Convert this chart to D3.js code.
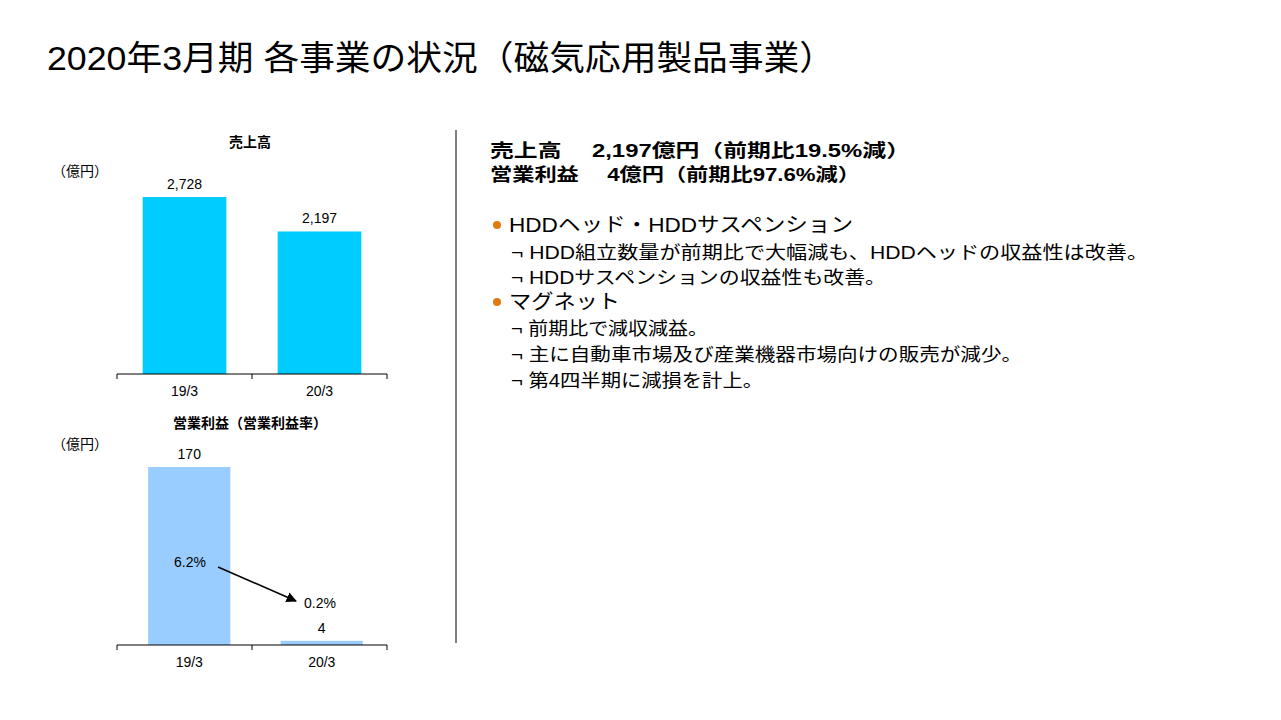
<!DOCTYPE html><html><head><meta charset="utf-8">
<script src="https://cdn.jsdelivr.net/npm/d3@7"></script>
<style>body{margin:0;background:#fff}text{font-family:"Liberation Sans","Noto Sans CJK JP",sans-serif}</style></head><body>
<svg id="c" width="1281" height="720"></svg>
<script>
const categories=["19/3","20/3"];
const sales=[2728,2197];
const profit=[170,4];
const margin=["6.2%","0.2%"];
const svg=d3.select("#c");
const F='"Liberation Sans","Noto Sans CJK JP",sans-serif';
svg.append("text").attr("x",47).attr("y",70).attr("font-size",34).attr("textLength",788).attr("lengthAdjust","spacingAndGlyphs").text("2020年3月期 各事業の状況（磁気応用製品事業）");
function chart(vals,title,ty,top,bottom,color,max,r0,r1){
  svg.append("text").attr("x",250).attr("y",ty).attr("text-anchor","middle").attr("font-size",14).attr("font-weight","bold").text(title);
  svg.append("text").attr("x",52).attr("y",ty+(title.length>3?21:29)).attr("font-size",14).text("（億円）");
  const x=d3.scaleBand().domain(categories).range([r0,r1]).paddingInner(0.38).paddingOuter(0.19);
  const y=d3.scaleLinear().domain([0,max]).range([bottom,top]);
  svg.selectAll(null).data(vals).enter().append("rect").attr("x",(d,i)=>x(categories[i])).attr("width",x.bandwidth())
    .attr("y",d=>y(d)).attr("height",d=>bottom-y(d)).attr("fill",color);
  svg.selectAll(null).data(vals).enter().append("text").attr("x",(d,i)=>x(categories[i])+x.bandwidth()/2).attr("y",d=>y(d)-8)
    .attr("text-anchor","middle").attr("font-size",14).text(d=>d3.format(",")(d));
  const ax=svg.append("g").attr("transform",`translate(0,${bottom})`).call(d3.axisBottom(x).tickSize(0).tickPadding(12));
  ax.select(".domain").remove();
  ax.selectAll("text").attr("font-size",14).attr("font-family",F);
  svg.append("line").attr("x1",117).attr("x2",387).attr("y1",bottom).attr("y2",bottom).attr("stroke","#000");
  [117,252,387].forEach(v=>svg.append("line").attr("x1",v).attr("x2",v).attr("y1",bottom).attr("y2",bottom+5).attr("stroke","#000"));
}
chart(sales,"売上高",147,197,374,"#00CCFF",2728,117,387);
chart(profit,"営業利益（営業利益率）",428,467,645,"#99CCFF",170,123,388);
svg.append("text").attr("x",190).attr("y",567).attr("text-anchor","middle").attr("font-size",14).text(margin[0]);
svg.append("text").attr("x",320).attr("y",608).attr("text-anchor","middle").attr("font-size",14).text(margin[1]);
svg.append("defs").append("marker").attr("id","ah").attr("viewBox","0 0 10 10").attr("refX",9).attr("refY",5).attr("markerWidth",7).attr("markerHeight",7).attr("orient","auto")
 .append("path").attr("d","M0,0L10,5L0,10z");
svg.append("line").attr("x1",218).attr("y1",567).attr("x2",296).attr("y2",601).attr("stroke","#000").attr("stroke-width",1.5).attr("marker-end","url(#ah)");
svg.append("line").attr("x1",456).attr("x2",456).attr("y1",130).attr("y2",643).attr("stroke","#000");
const lines=[
 {t:"売上高　  2,197億円（前期比19.5%減）",y:157,b:1,e:910},
 {t:"営業利益　 4億円（前期比97.6%減）",y:181,b:1,e:860},
 {t:"HDDヘッド・HDDサスペンション",y:232,d:1,e:853},
 {t:"¬ HDD組立数量が前期比で大幅減も、HDDヘッドの収益性は改善。",y:259,e:1148},
 {t:"¬ HDDサスペンションの収益性も改善。",y:284,e:886},
 {t:"マグネット",y:309,d:1,e:620},
 {t:"¬ 前期比で減収減益。",y:335,e:708},
 {t:"¬ 主に自動車市場及び産業機器市場向けの販売が減少。",y:361,e:1022},
 {t:"¬ 第4四半期に減損を計上。",y:387,e:763}];
lines.forEach(l=>{
  if(l.d) svg.append("circle").attr("cx",497).attr("cy",l.y-7).attr("r",4).attr("fill","#E07B10");
  const x=l.b?490:(l.d?509:511);
  svg.append("text").attr("x",x).attr("y",l.y).attr("font-size",l.d?20:18).attr("font-weight",l.b?"bold":"normal")
   .attr("textLength",l.e-x).attr("lengthAdjust","spacingAndGlyphs").text(l.t);
});
</script></body></html>
